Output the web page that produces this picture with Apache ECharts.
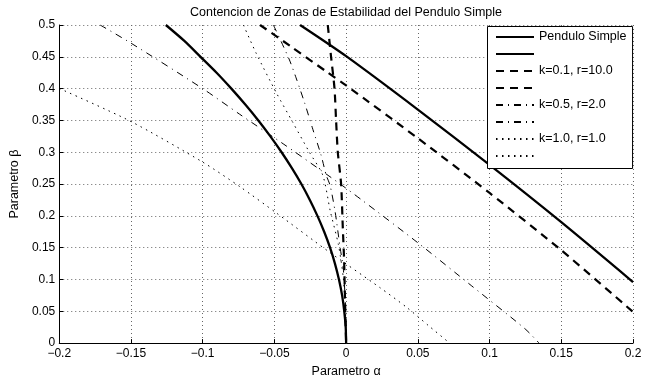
<!DOCTYPE html>
<html><head><meta charset="utf-8">
<script src="https://cdn.jsdelivr.net/npm/echarts@6/dist/echarts.min.js"></script>
<style>html,body{margin:0;padding:0;background:#fff}#c{width:652px;height:383px}</style>
</head><body><div id="c"></div>
<script>
const titleText = 'Contencion de Zonas de Estabilidad del Pendulo Simple';
const xName = 'Parametro \u03b1';
const yName = 'Parametro \u03b2';
const xTickLabels = ['\u22120.2','\u22120.15','\u22120.1','\u22120.05','0','0.05','0.1','0.15','0.2'];
const yTickLabels = ['0','0.05','0.1','0.15','0.2','0.25','0.3','0.35','0.4','0.45','0.5'];
const legendNames = ['Pendulo Simple',' ','k=0.1, r=10.0','  ','k=0.5, r=2.0','   ','k=1.0, r=1.0','    '];

// [alpha, beta] pairs
const simpleCurve = [[-0.1257,0.5],[-0.1128,0.475],[-0.1015,0.45],[-0.0903,0.425],[-0.0800,0.40],[-0.0703,0.375],[-0.0612,0.35],[-0.0528,0.325],[-0.0450,0.30],[-0.0378,0.275],[-0.0312,0.25],[-0.0253,0.225],[-0.0200,0.20],[-0.0153,0.175],[-0.0112,0.15],[-0.0078,0.125],[-0.0050,0.10],[-0.0028,0.075],[-0.0013,0.05],[-0.0003,0.025],[0,0]];
const simpleLine = [[-0.0321,0.5],[0,0.451],[0.05,0.367],[0.1,0.280],[0.15,0.190],[0.2,0.096]];
const k01Curve = [[-0.0128,0.5],[-0.0105,0.45],[-0.0081,0.40],[-0.0070,0.35],[-0.0058,0.30],[-0.0035,0.25],[-0.0023,0.18],[-0.0014,0.13],[-0.0007,0.06],[0,0]];
const k01Line = [[-0.0600,0.500],[-0.0384,0.466],[-0.0139,0.427],[0,0.405],[0.05,0.322],[0.1,0.236],[0.15,0.146],[0.2,0.049]];
const k05Curve = [[-0.0507,0.5],[-0.0453,0.474],[-0.0395,0.445],[-0.0349,0.417],[-0.0290,0.378],[-0.0232,0.336],[-0.0174,0.295],[-0.0139,0.264],[-0.0112,0.248],[-0.0077,0.207],[-0.0042,0.15],[-0.0020,0.118],[-0.0005,0.06],[0,0]];
const k05Line = [[-0.1715,0.5],[-0.15,0.4715],[-0.1,0.40],[-0.0744,0.36],[-0.0418,0.31],[-0.0047,0.251],[0.0109,0.225],[0.0504,0.157],[0.0876,0.0898],[0.1248,0.0223],[0.1345,0]];
const k10Curve = [[-0.0716,0.5],[-0.0628,0.456],[-0.0488,0.394],[-0.0372,0.347],[-0.0256,0.300],[-0.0163,0.264],[-0.0110,0.207],[-0.0054,0.155],[-0.0020,0.103],[-0.0005,0.05],[0,0]];
const k10Line = [[-0.2,0.4003],[-0.1506,0.349],[-0.1,0.2845],[-0.0739,0.2456],[-0.0483,0.204],[-0.0123,0.144],[0.0237,0.087],[0.0423,0.056],[0.0574,0.0275],[0.0713,0.0016],[0.0722,0]];

const FONT = '"Liberation Sans", Arial, Helvetica, sans-serif';
const styles = {
  solid: {color:'#000', width:2.3, type:'solid'},
  dashed: {color:'#000', width:2.2, type:[8,6]},
  dashdot: {color:'#000', width:1, type:[7,5,1,5]},
  dotted: {color:'#000', width:1, type:[1.5,4.5]}
};
const seriesDefs = [
  [legendNames[0], simpleCurve, styles.solid],
  [legendNames[1], simpleLine, styles.solid],
  [legendNames[2], k01Curve, styles.dashed],
  [legendNames[3], k01Line, styles.dashed],
  [legendNames[4], k05Curve, styles.dashdot],
  [legendNames[5], k05Line, styles.dashdot],
  [legendNames[6], k10Curve, styles.dotted],
  [legendNames[7], k10Line, styles.dotted]
];

const chart = echarts.init(document.getElementById('c'));
chart.setOption({
  animation: false,
  backgroundColor: '#fff',
  title: {text: titleText, left: 346, top: 6, padding: 0, textAlign: 'center',
    textStyle: {fontFamily: FONT, fontSize: 12.5, fontWeight: 'normal', color: '#000'}},
  grid: {left: 59, right: 19, top: 25, bottom: 37, containLabel: false},
  legend: {
    orient: 'vertical', left: 487.5, top: 26.5, selectedMode: false,
    data: legendNames,
    itemWidth: 38, itemHeight: 14, itemGap: 4,
    padding: [4, 6, 6, 7.5],
    backgroundColor: '#fff', borderColor: '#000', borderWidth: 1, borderRadius: 0,
    itemStyle: {color: 'rgba(0,0,0,0)', borderColor: 'rgba(0,0,0,0)', borderWidth: 0, opacity: 0},
    textStyle: {fontFamily: FONT, fontSize: 12.5, color: '#000', padding: [0,0,0,0]},
    z: 10
  },
  xAxis: {
    type: 'value', min: -0.2, max: 0.2, interval: 0.05,
    name: xName, nameLocation: 'middle', nameGap: 21,
    nameTextStyle: {fontFamily: FONT, fontSize: 12.5, color: '#000'},
    axisLine: {onZero: false, lineStyle: {color: '#000', width: 1}},
    axisTick: {inside: true, length: 4, lineStyle: {color: '#000'}},
    axisLabel: {fontFamily: FONT, fontSize: 12, color: '#000', margin: 5,
      formatter: (v, i) => xTickLabels[i]},
    splitLine: {show: true, lineStyle: {color: '#666', width: 1, type: [1, 3]}}
  },
  yAxis: {
    type: 'value', min: 0, max: 0.5, interval: 0.05,
    name: yName, nameLocation: 'middle', nameGap: 38,
    nameTextStyle: {fontFamily: FONT, fontSize: 12.5, color: '#000'},
    axisLine: {onZero: false, lineStyle: {color: '#000', width: 1}},
    axisTick: {inside: true, length: 4, lineStyle: {color: '#000'}},
    axisLabel: {fontFamily: FONT, fontSize: 12, color: '#000', margin: 4,
      formatter: (v, i) => yTickLabels[i]},
    splitLine: {show: true, lineStyle: {color: '#666', width: 1, type: [1, 3]}}
  },
  series: seriesDefs.map(([name, data, ls]) => ({
    name, type: 'line', data, symbol: 'none', showSymbol: false,
    smooth: 0.25,
    lineStyle: Object.assign({}, ls), itemStyle: {color: '#000'},
    emphasis: {disabled: true}, clip: true, z: 2
  }))
});
</script></body></html>
